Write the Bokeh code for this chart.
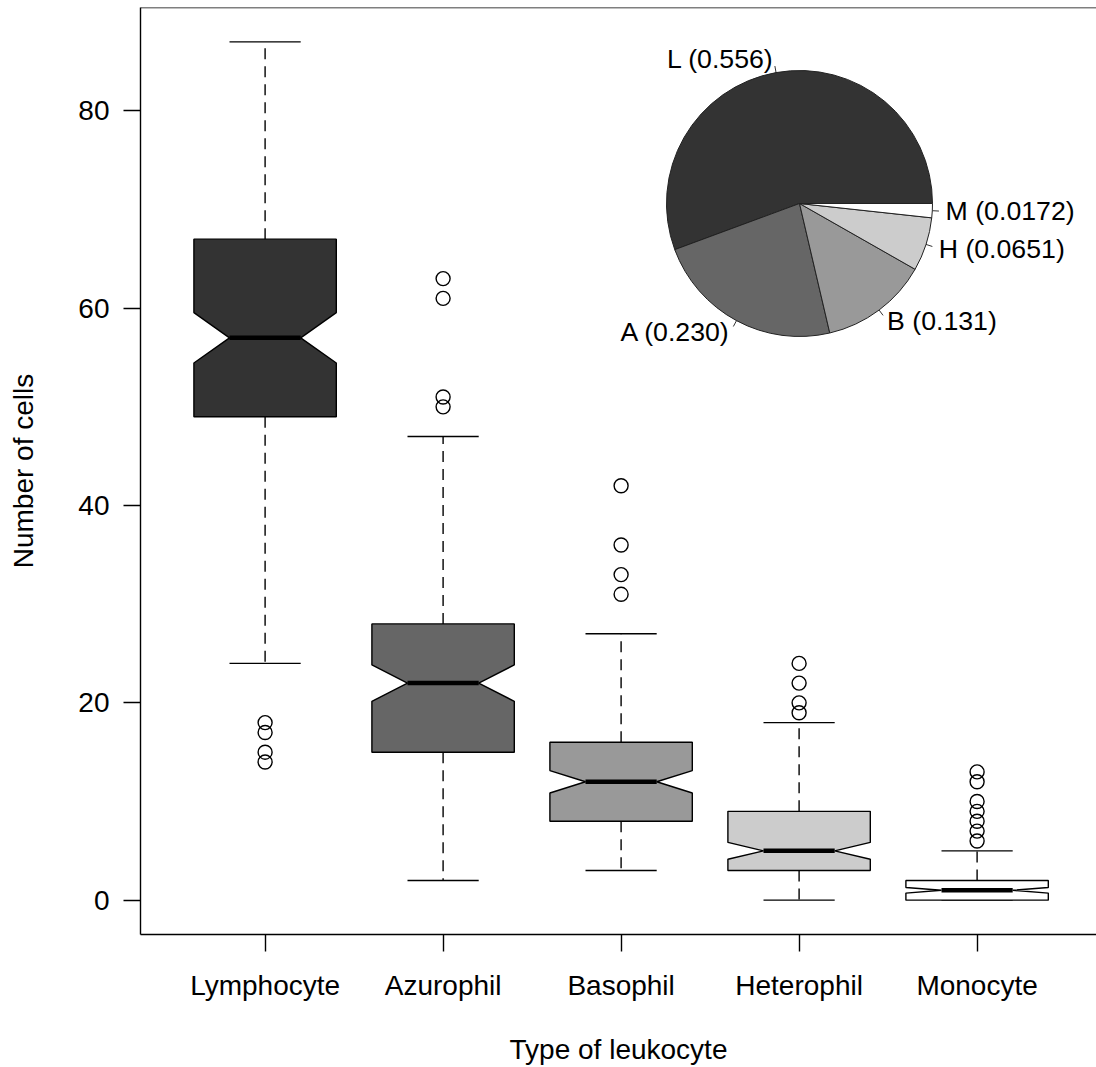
import numpy as np
from bokeh.plotting import figure
from bokeh.models import ColumnDataSource, FixedTicker, Span
from bokeh.embed import file_html
from bokeh.resources import INLINE
from bokeh.core.properties import value

# ---------------- data ----------------
categories = ["Lymphocyte", "Azurophil", "Basophil", "Heterophil", "Monocyte"]
whisker_low = [24, 2, 3, 0, 0]
q1 = [49, 15, 8, 3, 0]
medians = [57, 22, 12, 5, 1]
q3 = [67, 28, 16, 9, 2]
whisker_high = [87, 47, 27, 18, 5]
n_obs = 124  # estimated sample size (sets notch widths: 1.58*IQR/sqrt(n))

outliers_lymphocyte = [18, 17, 15, 14]
outliers_azurophil = [63, 61, 51, 50]
outliers_basophil = [42, 36, 33, 31]
outliers_heterophil = [24, 22, 20, 19]
outliers_monocyte = [13, 12, 10, 9, 8, 7, 6]

box_colors = ["#333333", "#666666", "#999999", "#CCCCCC", "#FFFFFF"]

pie_labels = ["L", "A", "B", "H", "M"]
pie_fractions = [0.556, 0.230, 0.131, 0.0651, 0.0172]
pie_texts = ["0.556", "0.230", "0.131", "0.0651", "0.0172"]

# ---------------- layout constants ----------------
FONT = "Liberation Sans"
FS = "28px"
PIE_FS = "26.7px"
FRAME_W, FRAME_H = 956, 927
BORDER_L, BORDER_T = 140, 7
PX_PER_X = 178.0
X_START = 0.3
X_END = X_START + FRAME_W / PX_PER_X
Y_START, Y_END = -3.48, 90.48
PX_PER_Y = FRAME_H / (Y_END - Y_START)
BOX_HALF = 0.4
STAPLE_HALF = 0.2
LW = 1.4

PIE_CX_PX, PIE_CY_PX = 659, 196   # pie centre, pixels from frame left / top
PIE_R = 133

p = figure(frame_width=FRAME_W, frame_height=FRAME_H,
           x_range=(X_START, X_END), y_range=(Y_START, Y_END),
           output_backend="svg", toolbar_location=None,
           min_border_left=BORDER_L, min_border_top=BORDER_T,
           min_border_right=0, min_border_bottom=1067 - BORDER_T - FRAME_H)
p.outline_line_color = None
p.xgrid.visible = False
p.ygrid.visible = False
p.background_fill_color = "white"
p.border_fill_color = "white"

xs_pos = np.arange(1, len(categories) + 1)

# ---------------- notched boxes ----------------
box_xs, box_ys = [], []
seg = dict(x0=[], y0=[], x1=[], y1=[])
staple = dict(x0=[], y0=[], x1=[], y1=[])
med = dict(x0=[], y0=[], x1=[], y1=[])
for i, x in enumerate(xs_pos):
    iqr = q3[i] - q1[i]
    nh = 1.58 * iqr / np.sqrt(n_obs)
    nlo, nhi = medians[i] - nh, medians[i] + nh
    w = BOX_HALF
    box_xs.append([x - w, x - w, x - w / 2, x - w, x - w, x + w, x + w, x + w / 2, x + w, x + w])
    box_ys.append([q1[i], nlo, medians[i], nhi, q3[i], q3[i], nhi, medians[i], nlo, q1[i]])
    for a, b in ((q3[i], whisker_high[i]), (q1[i], whisker_low[i])):
        if a != b:
            seg["x0"].append(x); seg["x1"].append(x); seg["y0"].append(a); seg["y1"].append(b)
    for v in (whisker_low[i], whisker_high[i]):
        staple["x0"].append(x - STAPLE_HALF); staple["x1"].append(x + STAPLE_HALF)
        staple["y0"].append(v); staple["y1"].append(v)
    med["x0"].append(x - w / 2); med["x1"].append(x + w / 2)
    med["y0"].append(medians[i]); med["y1"].append(medians[i])

p.segment(source=ColumnDataSource(seg), x0="x0", y0="y0", x1="x1", y1="y1",
          line_color="black", line_width=LW, line_dash="11 7")
p.segment(source=ColumnDataSource(staple), x0="x0", y0="y0", x1="x1", y1="y1",
          line_color="black", line_width=LW)
p.patches(xs=box_xs, ys=box_ys, fill_color=box_colors, line_color="black", line_width=LW)
p.segment(source=ColumnDataSource(med), x0="x0", y0="y0", x1="x1", y1="y1",
          line_color="black", line_width=4.5, line_cap="butt")

# ---------------- outliers ----------------
all_out = [outliers_lymphocyte, outliers_azurophil, outliers_basophil,
           outliers_heterophil, outliers_monocyte]
ox, oy = [], []
for i, vals in enumerate(all_out):
    ox += [xs_pos[i]] * len(vals)
    oy += vals
p.scatter(ox, oy, marker="circle", size=14, fill_color=None,
          line_color="black", line_width=LW)

# ---------------- axes ----------------
p.xaxis.ticker = FixedTicker(ticks=list(xs_pos))
p.xaxis.major_label_overrides = {int(x): c for x, c in zip(xs_pos, categories)}
p.yaxis.ticker = FixedTicker(ticks=[0, 20, 40, 60, 80])
for ax in (p.xaxis[0], p.yaxis[0]):
    ax.axis_line_color = "black"
    ax.axis_line_width = LW
    ax.major_tick_line_color = "black"
    ax.major_tick_line_width = LW
    ax.major_tick_out = 17
    ax.major_tick_in = 0
    ax.minor_tick_line_color = None
    ax.major_label_text_font = FONT
    ax.major_label_text_font_size = FS
    ax.major_label_text_color = "black"
    ax.axis_label_text_font = FONT
    ax.axis_label_text_font_size = FS
    ax.axis_label_text_font_style = "normal"
    ax.axis_label_text_color = "black"
p.yaxis.major_label_orientation = "horizontal"
p.yaxis.major_label_standoff = 14
p.xaxis.major_label_standoff = 18
p.xaxis.axis_label = "Type of leukocyte"
p.yaxis.axis_label = "Number of cells"
p.xaxis.axis_label_standoff = 30
p.yaxis.axis_label_standoff = 36

p.add_layout(Span(location=Y_END, dimension="width", line_color="black", line_width=LW))

# ---------------- inset pie ----------------
cx = X_START + PIE_CX_PX / PX_PER_X
cy = Y_END - PIE_CY_PX / PX_PER_Y
fr = np.array(pie_fractions) / np.sum(pie_fractions)
cum = np.concatenate([[0], np.cumsum(fr)]) * 2 * np.pi
starts, ends = cum[:-1], cum[1:]
mids = (starts + ends) / 2

p.ray(x=[cx] * len(mids), y=[cy] * len(mids), length=1.05 * PIE_R, length_units="screen",
      angle=list(mids), line_color="#333333", line_width=1)
p.wedge(x=[cx] * len(fr), y=[cy] * len(fr), radius=PIE_R, radius_units="screen",
        start_angle=list(starts), end_angle=list(ends),
        fill_color=box_colors, line_color="#222222", line_width=1)

lab_src = ColumnDataSource(dict(
    x=[cx] * len(mids), y=[cy] * len(mids),
    text=[f"{l} ({t})" for l, t in zip(pie_labels, pie_texts)],
    xo=list(1.1 * PIE_R * np.cos(mids)), yo=list(-1.1 * PIE_R * np.sin(mids)),
    align=["right" if np.cos(m) < 0 else "left" for m in mids],
))
p.text(x="x", y="y", text="text", x_offset="xo", y_offset="yo", text_align="align",
       text_baseline="middle", source=lab_src, text_font=value(FONT),
       text_font_size=PIE_FS, text_color="black")

open("out.html", "w").write(file_html(p, INLINE))
